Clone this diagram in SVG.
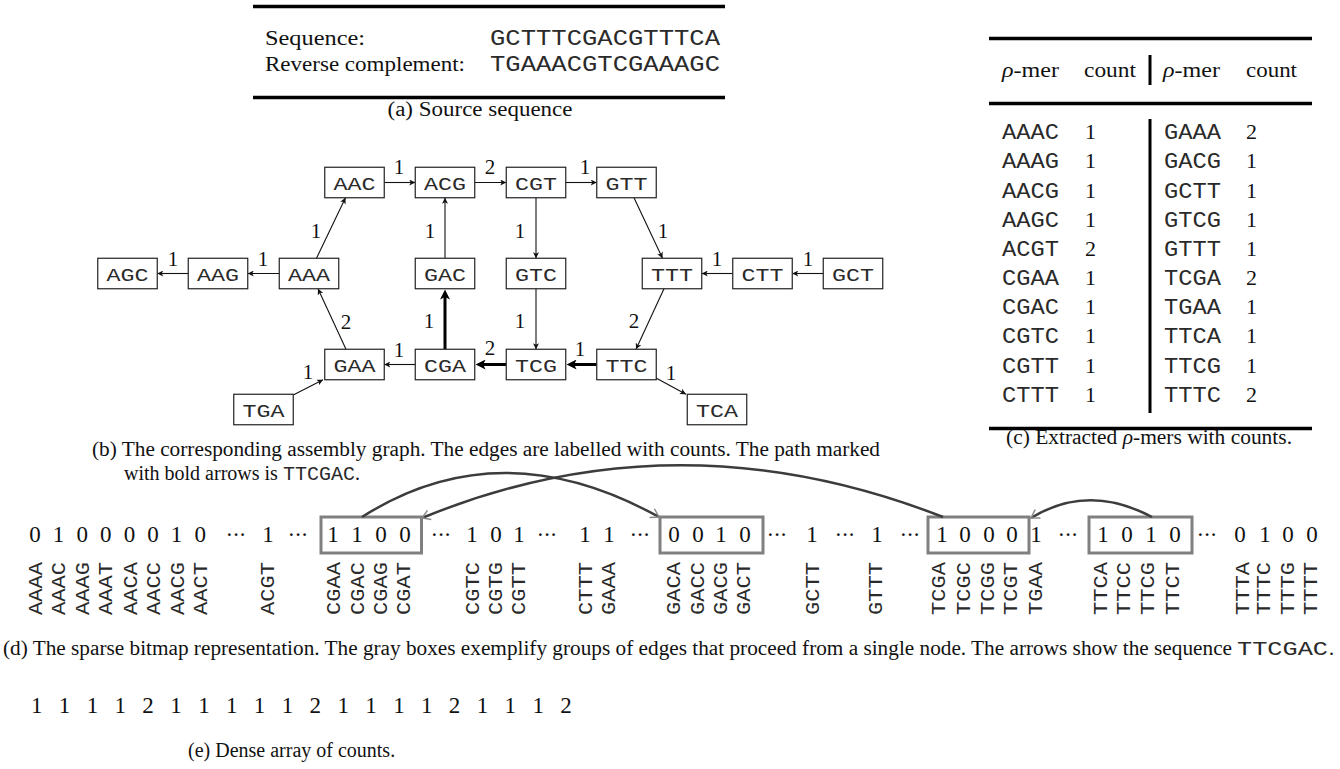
<svg xmlns="http://www.w3.org/2000/svg" width="1340" height="769" viewBox="0 0 1340 769">
<style>
.tm{font-family:"Liberation Serif","Times New Roman",serif;fill:#111}
.mono{font-family:"Liberation Mono","Courier New",monospace;fill:#2a2a2a}
.cap{font-size:20px}
.rule{stroke:#000;stroke-width:3.5}
.box{fill:#fff;stroke:#222;stroke-width:1.2}
.nt{font-size:19px;text-anchor:middle}
.el{font-size:21px;text-anchor:middle}
.e{fill:none;stroke:#111;stroke-width:1.1;marker-end:url(#ah)}
.eb{fill:none;stroke:#000;stroke-width:3;marker-end:url(#ahb)}
.gbox{fill:none;stroke:#808080;stroke-width:3}
.cur{fill:none;stroke:#3c3c3c;stroke-width:2.5;marker-end:url(#chev)}
.bd{font-size:23px;text-anchor:middle}
.lab{font-size:20px}
.td{font-size:22px}
</style>
<defs>
<marker id="ah" markerUnits="userSpaceOnUse" viewBox="0 0 10 10" refX="10" refY="5" markerWidth="7" markerHeight="6" orient="auto"><path d="M0,0 L10,5 L0,10 L2.5,5 z" fill="#111"/></marker>
<marker id="ahb" markerUnits="userSpaceOnUse" viewBox="0 0 10 10" refX="4" refY="5" markerWidth="11" markerHeight="10" orient="auto"><path d="M0,0 L10,5 L0,10 L2.5,5 z" fill="#000"/></marker>
<marker id="chev" markerUnits="userSpaceOnUse" viewBox="-10 -6 12 12" refX="0" refY="0" markerWidth="12" markerHeight="12" orient="auto"><path d="M-8,-5 L0,0 L-8,5" fill="none" stroke="#8a8a8a" stroke-width="1.5"/></marker>
</defs>

<!-- (a) Source sequence -->
<g id="source-sequence">
<line class="rule" x1="253" y1="6.5" x2="725" y2="6.5"/>
<text class="tm" x="265" y="45" font-size="22" textLength="100" lengthAdjust="spacingAndGlyphs">Sequence:</text>
<text class="mono" x="490" y="45" font-size="22" textLength="230" lengthAdjust="spacingAndGlyphs">GCTTTCGACGTTTCA</text>
<text class="tm" x="265" y="71" font-size="22" textLength="200" lengthAdjust="spacingAndGlyphs">Reverse complement:</text>
<text class="mono" x="490" y="71" font-size="22" textLength="230" lengthAdjust="spacingAndGlyphs">TGAAACGTCGAAAGC</text>
<line class="rule" x1="253" y1="97.5" x2="725" y2="97.5"/>
<text class="tm cap" x="480" y="116" text-anchor="middle" textLength="185" lengthAdjust="spacingAndGlyphs">(a) Source sequence</text>
</g>

<!-- (b) graph connectors -->
<g id="connectors">
<path class="e" d="M384.25,182.5 L415.25,182.5"/>
<path class="e" d="M474.75,182.5 L506.25,182.5"/>
<path class="e" d="M565.75,182.5 L596.75,182.5"/>
<path class="e" d="M316.5,258.25 L345.5,197.75"/>
<path class="e" d="M279.25,273.5 L247.75,273.5"/>
<path class="e" d="M188.25,273.5 L157.25,273.5"/>
<path class="e" d="M445,258.25 L445,197.75"/>
<path class="eb" d="M445,349.25 L445,295.4"/>
<path class="e" d="M346,349.25 L318,288.75"/>
<path class="e" d="M415.25,364.5 L384.25,364.5"/>
<path class="e" d="M293.25,395 L323,379.75"/>
<path class="eb" d="M506.25,364.5 L481.6,364.5"/>
<path class="eb" d="M596.75,364.5 L572.6,364.5"/>
<path class="e" d="M536,197.75 L536,258.25"/>
<path class="e" d="M536,288.75 L536,349.25"/>
<path class="e" d="M634,197.75 L662.5,258.25"/>
<path class="e" d="M664,288.75 L636,349.25"/>
<path class="e" d="M732.75,273.5 L701.75,273.5"/>
<path class="e" d="M823.25,273.5 L792.25,273.5"/>
<path class="e" d="M656,378 L686,394.25"/>
</g>
<g id="edge-labels" class="tm">
<text class="el" x="399" y="174">1</text>
<text class="el" x="490" y="174">2</text>
<text class="el" x="585" y="174">1</text>
<text class="el" x="316" y="238">1</text>
<text class="el" x="263" y="266">1</text>
<text class="el" x="173" y="266">1</text>
<text class="el" x="430" y="238">1</text>
<text class="el" x="429" y="328">1</text>
<text class="el" x="346" y="329">2</text>
<text class="el" x="399" y="357">1</text>
<text class="el" x="308" y="379">1</text>
<text class="el" x="490" y="355">2</text>
<text class="el" x="580" y="356">1</text>
<text class="el" x="520" y="238">1</text>
<text class="el" x="520" y="328">1</text>
<text class="el" x="663" y="238">1</text>
<text class="el" x="634" y="328">2</text>
<text class="el" x="717" y="266">1</text>
<text class="el" x="808" y="266">1</text>
<text class="el" x="671" y="380">1</text>
</g>

<g id="n-AAC"><rect class="box" x="324.75" y="167.25" width="59.5" height="30.5"/><text class="mono nt" x="354.5" y="190" textLength="42" lengthAdjust="spacingAndGlyphs">AAC</text></g>
<g id="n-ACG"><rect class="box" x="415.25" y="167.25" width="59.5" height="30.5"/><text class="mono nt" x="445" y="190" textLength="42" lengthAdjust="spacingAndGlyphs">ACG</text></g>
<g id="n-CGT"><rect class="box" x="506.25" y="167.25" width="59.5" height="30.5"/><text class="mono nt" x="536" y="190" textLength="42" lengthAdjust="spacingAndGlyphs">CGT</text></g>
<g id="n-GTT"><rect class="box" x="596.75" y="167.25" width="59.5" height="30.5"/><text class="mono nt" x="626.5" y="190" textLength="42" lengthAdjust="spacingAndGlyphs">GTT</text></g>
<g id="n-AGC"><rect class="box" x="97.75" y="258.25" width="59.5" height="30.5"/><text class="mono nt" x="127.5" y="281" textLength="42" lengthAdjust="spacingAndGlyphs">AGC</text></g>
<g id="n-AAG"><rect class="box" x="188.25" y="258.25" width="59.5" height="30.5"/><text class="mono nt" x="218" y="281" textLength="42" lengthAdjust="spacingAndGlyphs">AAG</text></g>
<g id="n-AAA"><rect class="box" x="279.25" y="258.25" width="59.5" height="30.5"/><text class="mono nt" x="309" y="281" textLength="42" lengthAdjust="spacingAndGlyphs">AAA</text></g>
<g id="n-GAC"><rect class="box" x="415.25" y="258.25" width="59.5" height="30.5"/><text class="mono nt" x="445" y="281" textLength="42" lengthAdjust="spacingAndGlyphs">GAC</text></g>
<g id="n-GTC"><rect class="box" x="506.25" y="258.25" width="59.5" height="30.5"/><text class="mono nt" x="536" y="281" textLength="42" lengthAdjust="spacingAndGlyphs">GTC</text></g>
<g id="n-TTT"><rect class="box" x="642.25" y="258.25" width="59.5" height="30.5"/><text class="mono nt" x="672" y="281" textLength="42" lengthAdjust="spacingAndGlyphs">TTT</text></g>
<g id="n-CTT"><rect class="box" x="732.75" y="258.25" width="59.5" height="30.5"/><text class="mono nt" x="762.5" y="281" textLength="42" lengthAdjust="spacingAndGlyphs">CTT</text></g>
<g id="n-GCT"><rect class="box" x="823.25" y="258.25" width="59.5" height="30.5"/><text class="mono nt" x="853" y="281" textLength="42" lengthAdjust="spacingAndGlyphs">GCT</text></g>
<g id="n-GAA"><rect class="box" x="324.75" y="349.25" width="59.5" height="30.5"/><text class="mono nt" x="354.5" y="372" textLength="42" lengthAdjust="spacingAndGlyphs">GAA</text></g>
<g id="n-CGA"><rect class="box" x="415.25" y="349.25" width="59.5" height="30.5"/><text class="mono nt" x="445" y="372" textLength="42" lengthAdjust="spacingAndGlyphs">CGA</text></g>
<g id="n-TCG"><rect class="box" x="506.25" y="349.25" width="59.5" height="30.5"/><text class="mono nt" x="536" y="372" textLength="42" lengthAdjust="spacingAndGlyphs">TCG</text></g>
<g id="n-TTC"><rect class="box" x="596.75" y="349.25" width="59.5" height="30.5"/><text class="mono nt" x="626.5" y="372" textLength="42" lengthAdjust="spacingAndGlyphs">TTC</text></g>
<g id="n-TGA"><rect class="box" x="233.75" y="394.25" width="59.5" height="30.5"/><text class="mono nt" x="263.5" y="417" textLength="42" lengthAdjust="spacingAndGlyphs">TGA</text></g>
<g id="n-TCA"><rect class="box" x="687.25" y="394.25" width="59.5" height="30.5"/><text class="mono nt" x="717" y="417" textLength="42" lengthAdjust="spacingAndGlyphs">TCA</text></g>

<g id="caption-b">
<text class="tm cap" x="92" y="456" textLength="788" lengthAdjust="spacingAndGlyphs">(b) The corresponding assembly graph. The edges are labelled with counts. The path marked</text>
<text class="tm cap" x="124" y="480">with bold arrows is <tspan class="mono" font-size="20">TTCGAC</tspan>.</text>
</g>

<!-- (c) table -->
<g id="table">
<line class="rule" x1="989" y1="38.5" x2="1312" y2="38.5"/>
<text class="tm" x="1002" y="77" font-size="22" textLength="57" lengthAdjust="spacingAndGlyphs"><tspan font-style="italic">ρ</tspan>-mer</text>
<text class="tm" x="1084" y="77" font-size="22" textLength="52" lengthAdjust="spacingAndGlyphs">count</text>
<line x1="1150" y1="55" x2="1150" y2="85" stroke="#000" stroke-width="3"/>
<text class="tm" x="1163" y="77" font-size="22" textLength="57" lengthAdjust="spacingAndGlyphs"><tspan font-style="italic">ρ</tspan>-mer</text>
<text class="tm" x="1246" y="77" font-size="22" textLength="51" lengthAdjust="spacingAndGlyphs">count</text>
<line class="rule" x1="989" y1="103.5" x2="1312" y2="103.5"/>
<line x1="1150" y1="119" x2="1150" y2="413" stroke="#000" stroke-width="3"/>
<g class="mono td">
<text x="1002" y="139.3" textLength="57" lengthAdjust="spacingAndGlyphs">AAAC</text>
<text x="1002" y="168.4" textLength="57" lengthAdjust="spacingAndGlyphs">AAAG</text>
<text x="1002" y="197.6" textLength="57" lengthAdjust="spacingAndGlyphs">AACG</text>
<text x="1002" y="226.7" textLength="57" lengthAdjust="spacingAndGlyphs">AAGC</text>
<text x="1002" y="255.9" textLength="57" lengthAdjust="spacingAndGlyphs">ACGT</text>
<text x="1002" y="285.1" textLength="57" lengthAdjust="spacingAndGlyphs">CGAA</text>
<text x="1002" y="314.2" textLength="57" lengthAdjust="spacingAndGlyphs">CGAC</text>
<text x="1002" y="343.4" textLength="57" lengthAdjust="spacingAndGlyphs">CGTC</text>
<text x="1002" y="372.5" textLength="57" lengthAdjust="spacingAndGlyphs">CGTT</text>
<text x="1002" y="401.7" textLength="57" lengthAdjust="spacingAndGlyphs">CTTT</text>
<text x="1164" y="139.3" textLength="57" lengthAdjust="spacingAndGlyphs">GAAA</text>
<text x="1164" y="168.4" textLength="57" lengthAdjust="spacingAndGlyphs">GACG</text>
<text x="1164" y="197.6" textLength="57" lengthAdjust="spacingAndGlyphs">GCTT</text>
<text x="1164" y="226.7" textLength="57" lengthAdjust="spacingAndGlyphs">GTCG</text>
<text x="1164" y="255.9" textLength="57" lengthAdjust="spacingAndGlyphs">GTTT</text>
<text x="1164" y="285.1" textLength="57" lengthAdjust="spacingAndGlyphs">TCGA</text>
<text x="1164" y="314.2" textLength="57" lengthAdjust="spacingAndGlyphs">TGAA</text>
<text x="1164" y="343.4" textLength="57" lengthAdjust="spacingAndGlyphs">TTCA</text>
<text x="1164" y="372.5" textLength="57" lengthAdjust="spacingAndGlyphs">TTCG</text>
<text x="1164" y="401.7" textLength="57" lengthAdjust="spacingAndGlyphs">TTTC</text>
</g>
<g class="tm td">
<text x="1085" y="139.3">1</text><text x="1085" y="168.4">1</text><text x="1085" y="197.6">1</text><text x="1085" y="226.7">1</text><text x="1085" y="255.9">2</text>
<text x="1085" y="285.1">1</text><text x="1085" y="314.2">1</text><text x="1085" y="343.4">1</text><text x="1085" y="372.5">1</text><text x="1085" y="401.7">1</text>
<text x="1246" y="139.3">2</text><text x="1246" y="168.4">1</text><text x="1246" y="197.6">1</text><text x="1246" y="226.7">1</text><text x="1246" y="255.9">1</text>
<text x="1246" y="285.1">2</text><text x="1246" y="314.2">1</text><text x="1246" y="343.4">1</text><text x="1246" y="372.5">1</text><text x="1246" y="401.7">2</text>
</g>
<line class="rule" x1="989" y1="428.5" x2="1312" y2="428.5"/>
<text class="tm cap" x="1006" y="444" textLength="286" lengthAdjust="spacingAndGlyphs">(c) Extracted <tspan font-style="italic">ρ</tspan>-mers with counts.</text>
</g>

<!-- (d) sparse bitmap -->
<g id="bitmap-boxes">
<rect class="gbox" x="321" y="517" width="100.5" height="36"/>
<rect class="gbox" x="660" y="517" width="103" height="36"/>
<rect class="gbox" x="928" y="517" width="101" height="36"/>
<rect class="gbox" x="1089" y="517" width="103" height="36"/>
</g>
<g id="bitmap-digits" class="tm bd">
<text x="35" y="542">0</text><text x="58.6" y="542">1</text><text x="82.2" y="542">0</text><text x="105.8" y="542">0</text>
<text x="129.4" y="542">0</text><text x="153" y="542">0</text><text x="176.6" y="542">1</text><text x="200.2" y="542">0</text>
<text x="236" y="542" textLength="21" lengthAdjust="spacing">···</text>
<text x="268" y="542">1</text>
<text x="298" y="542" textLength="21" lengthAdjust="spacing">···</text>
<text x="333" y="542">1</text><text x="357" y="542">1</text><text x="381" y="542">0</text><text x="405" y="542">0</text>
<text x="441" y="542" textLength="21" lengthAdjust="spacing">···</text>
<text x="472" y="542">1</text><text x="496" y="542">0</text><text x="519" y="542">1</text>
<text x="547" y="542" textLength="21" lengthAdjust="spacing">···</text>
<text x="585" y="542">1</text><text x="609" y="542">1</text>
<text x="640" y="542" textLength="21" lengthAdjust="spacing">···</text>
<text x="674" y="542">0</text><text x="698" y="542">0</text><text x="721" y="542">1</text><text x="745" y="542">0</text>
<text x="777" y="542" textLength="21" lengthAdjust="spacing">···</text>
<text x="812" y="542">1</text>
<text x="845" y="542" textLength="21" lengthAdjust="spacing">···</text>
<text x="877" y="542">1</text>
<text x="910" y="542" textLength="21" lengthAdjust="spacing">···</text>
<text x="942" y="542">1</text><text x="965" y="542">0</text><text x="989" y="542">0</text><text x="1012" y="542">0</text>
<text x="1036" y="542">1</text>
<text x="1068" y="542" textLength="21" lengthAdjust="spacing">···</text>
<text x="1103" y="542">1</text><text x="1127" y="542">0</text><text x="1151" y="542">1</text><text x="1175" y="542">0</text>
<text x="1207" y="542" textLength="21" lengthAdjust="spacing">···</text>
<text x="1240" y="542">0</text><text x="1265" y="542">1</text><text x="1288" y="542">0</text><text x="1312" y="542">0</text>
</g>
<g id="bitmap-labels" class="mono lab">
<text transform="translate(41.5,615) rotate(-90)" textLength="53" lengthAdjust="spacingAndGlyphs">AAAA</text>
<text transform="translate(64.5,615) rotate(-90)" textLength="53" lengthAdjust="spacingAndGlyphs">AAAC</text>
<text transform="translate(88.5,615) rotate(-90)" textLength="53" lengthAdjust="spacingAndGlyphs">AAAG</text>
<text transform="translate(111.5,615) rotate(-90)" textLength="53" lengthAdjust="spacingAndGlyphs">AAAT</text>
<text transform="translate(136.5,615) rotate(-90)" textLength="53" lengthAdjust="spacingAndGlyphs">AACA</text>
<text transform="translate(159.5,615) rotate(-90)" textLength="53" lengthAdjust="spacingAndGlyphs">AACC</text>
<text transform="translate(183.5,615) rotate(-90)" textLength="53" lengthAdjust="spacingAndGlyphs">AACG</text>
<text transform="translate(206.5,615) rotate(-90)" textLength="53" lengthAdjust="spacingAndGlyphs">AACT</text>
<text transform="translate(273.5,615) rotate(-90)" textLength="53" lengthAdjust="spacingAndGlyphs">ACGT</text>
<text transform="translate(339.5,615) rotate(-90)" textLength="53" lengthAdjust="spacingAndGlyphs">CGAA</text>
<text transform="translate(363.5,615) rotate(-90)" textLength="53" lengthAdjust="spacingAndGlyphs">CGAC</text>
<text transform="translate(386.5,615) rotate(-90)" textLength="53" lengthAdjust="spacingAndGlyphs">CGAG</text>
<text transform="translate(409.5,615) rotate(-90)" textLength="53" lengthAdjust="spacingAndGlyphs">CGAT</text>
<text transform="translate(478.5,615) rotate(-90)" textLength="53" lengthAdjust="spacingAndGlyphs">CGTC</text>
<text transform="translate(501.5,615) rotate(-90)" textLength="53" lengthAdjust="spacingAndGlyphs">CGTG</text>
<text transform="translate(524.5,615) rotate(-90)" textLength="53" lengthAdjust="spacingAndGlyphs">CGTT</text>
<text transform="translate(591.5,615) rotate(-90)" textLength="53" lengthAdjust="spacingAndGlyphs">CTTT</text>
<text transform="translate(614.5,615) rotate(-90)" textLength="53" lengthAdjust="spacingAndGlyphs">GAAA</text>
<text transform="translate(679.5,615) rotate(-90)" textLength="53" lengthAdjust="spacingAndGlyphs">GACA</text>
<text transform="translate(703.5,615) rotate(-90)" textLength="53" lengthAdjust="spacingAndGlyphs">GACC</text>
<text transform="translate(726.5,615) rotate(-90)" textLength="53" lengthAdjust="spacingAndGlyphs">GACG</text>
<text transform="translate(749.5,615) rotate(-90)" textLength="53" lengthAdjust="spacingAndGlyphs">GACT</text>
<text transform="translate(818.5,615) rotate(-90)" textLength="53" lengthAdjust="spacingAndGlyphs">GCTT</text>
<text transform="translate(881.5,615) rotate(-90)" textLength="53" lengthAdjust="spacingAndGlyphs">GTTT</text>
<text transform="translate(944.5,615) rotate(-90)" textLength="53" lengthAdjust="spacingAndGlyphs">TCGA</text>
<text transform="translate(969.5,615) rotate(-90)" textLength="53" lengthAdjust="spacingAndGlyphs">TCGC</text>
<text transform="translate(993.5,615) rotate(-90)" textLength="53" lengthAdjust="spacingAndGlyphs">TCGG</text>
<text transform="translate(1016.5,615) rotate(-90)" textLength="53" lengthAdjust="spacingAndGlyphs">TCGT</text>
<text transform="translate(1041.5,615) rotate(-90)" textLength="53" lengthAdjust="spacingAndGlyphs">TGAA</text>
<text transform="translate(1106.5,615) rotate(-90)" textLength="53" lengthAdjust="spacingAndGlyphs">TTCA</text>
<text transform="translate(1129.5,615) rotate(-90)" textLength="53" lengthAdjust="spacingAndGlyphs">TTCC</text>
<text transform="translate(1153.5,615) rotate(-90)" textLength="53" lengthAdjust="spacingAndGlyphs">TTCG</text>
<text transform="translate(1178.5,615) rotate(-90)" textLength="53" lengthAdjust="spacingAndGlyphs">TTCT</text>
<text transform="translate(1248.5,615) rotate(-90)" textLength="53" lengthAdjust="spacingAndGlyphs">TTTA</text>
<text transform="translate(1269.5,615) rotate(-90)" textLength="53" lengthAdjust="spacingAndGlyphs">TTTC</text>
<text transform="translate(1293.5,615) rotate(-90)" textLength="53" lengthAdjust="spacingAndGlyphs">TTTG</text>
<text transform="translate(1316.5,615) rotate(-90)" textLength="53" lengthAdjust="spacingAndGlyphs">TTTT</text>
</g>
<g id="bitmap-arrows">
<path class="cur" d="M362,517 Q500,429 659,517"/>
<path class="cur" d="M943,517 Q677,413 422,518"/>
<path class="cur" d="M1152,517 Q1088,483 1031,518"/>
</g>
<g id="caption-d">
<text class="tm cap" x="3" y="655" textLength="1229" lengthAdjust="spacingAndGlyphs">(d) The sparse bitmap representation. The gray boxes exemplify groups of edges that proceed from a single node. The arrows show the sequence</text>
<text class="mono" x="1237" y="655" font-size="20" textLength="91" lengthAdjust="spacingAndGlyphs">TTCGAC</text>
<text class="tm cap" x="1329" y="655">.</text>
</g>

<!-- (e) dense array -->
<g id="dense-array">
<text class="tm" font-size="23" text-anchor="middle" y="713" x="36.7 64.6 92.4 120.3 148.1 176 203.9 231.7 259.6 287.4 315.3 343.2 371 398.9 426.7 454.6 482.5 510.3 538.2 566">11112111112111121112</text>
<text class="tm cap" x="188" y="757">(e) Dense array of counts.</text>
</g>
</svg>
